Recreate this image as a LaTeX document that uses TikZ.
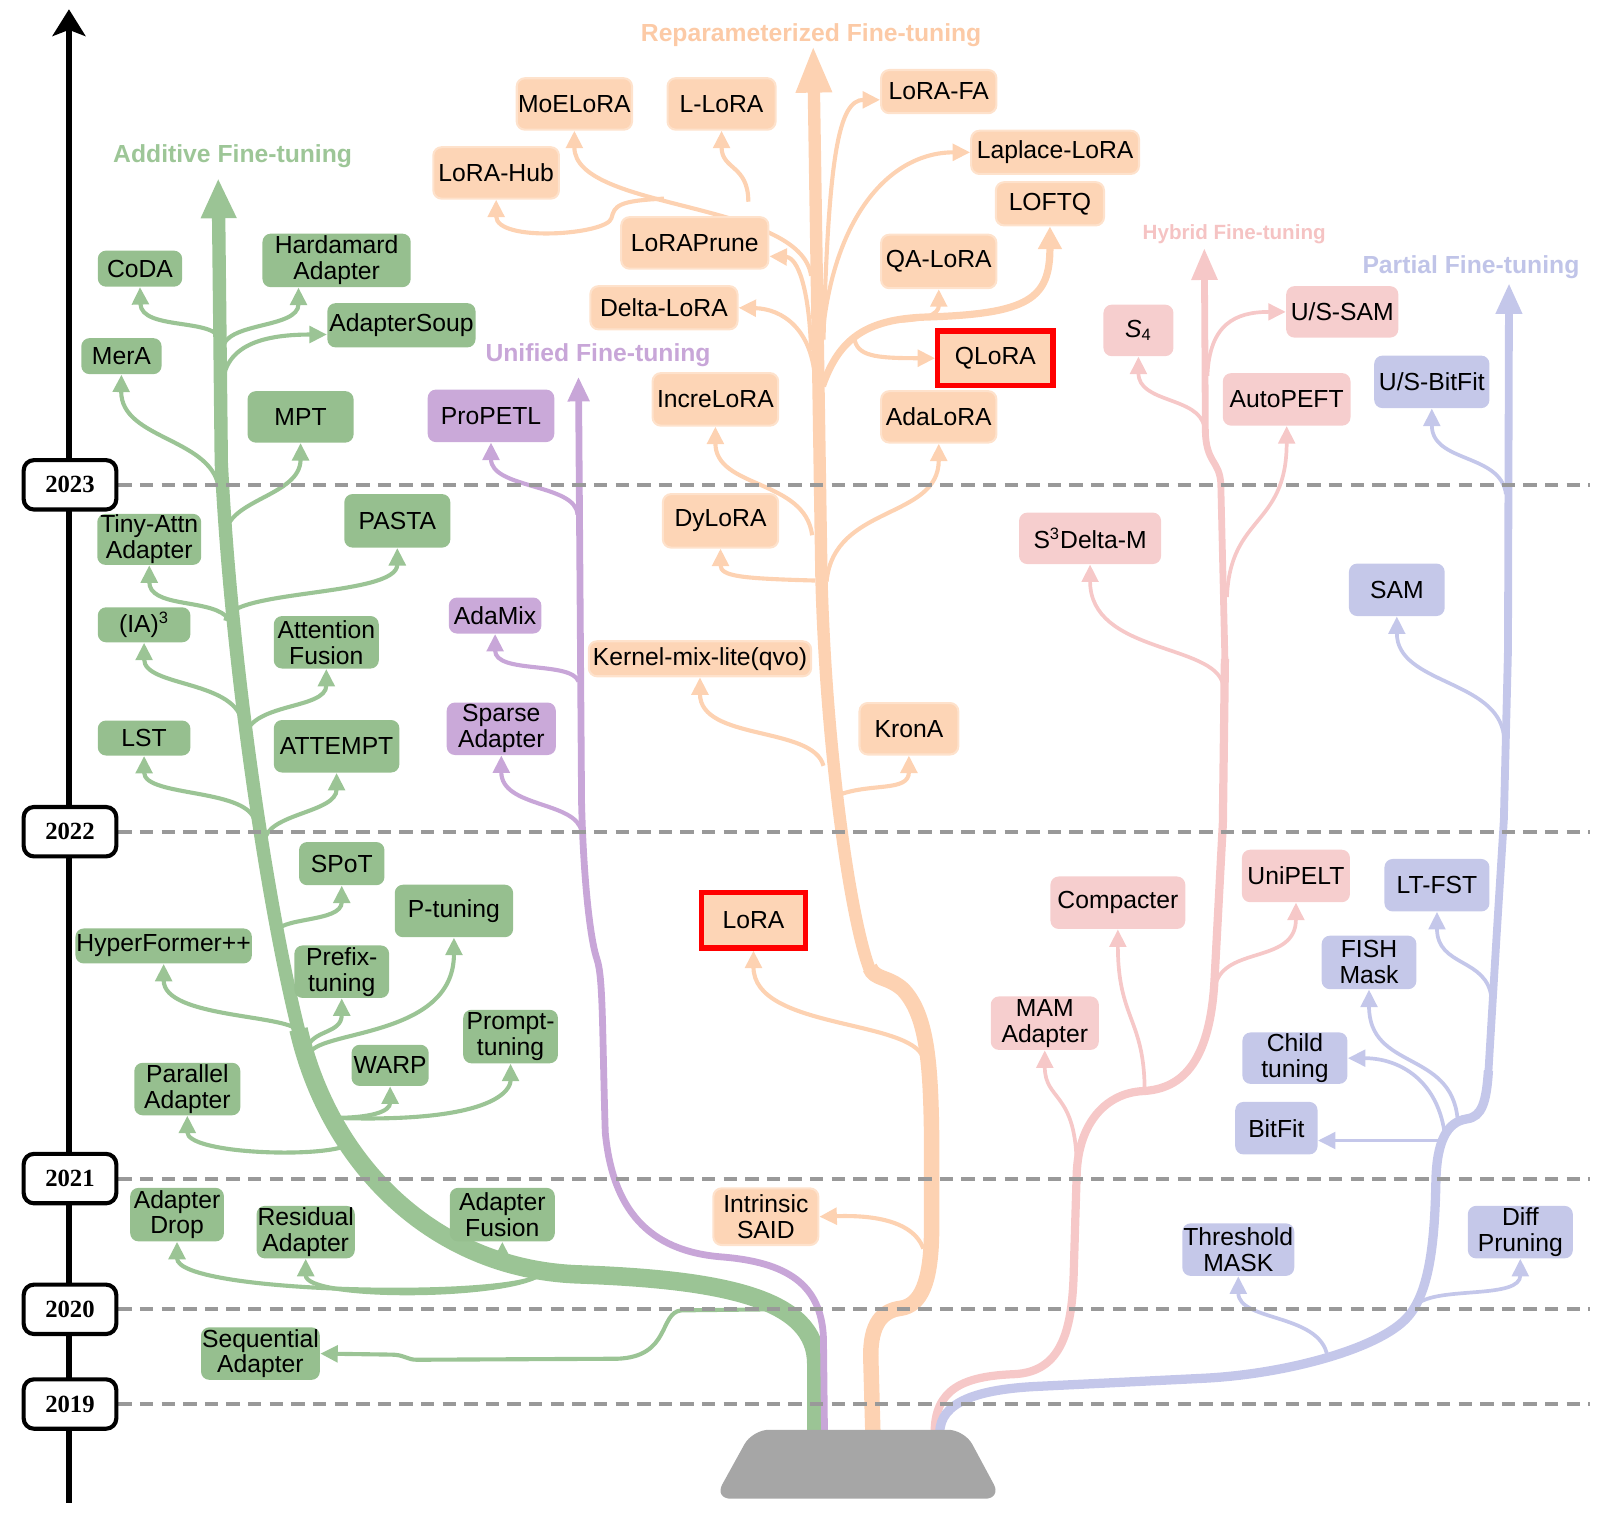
\documentclass[tikz,border=0pt]{standalone}
\usepackage{fontspec}
\setmainfont{Liberation Sans}
\newfontfamily\yearfont{Liberation Serif}
\usetikzlibrary{arrows.meta,calc}
\pgfdeclarelayer{bg}
\pgfdeclarelayer{mid}
\pgfsetlayers{bg,mid,main}
\definecolor{gfill}{RGB}{150,191,143}
\definecolor{ofill}{RGB}{253,213,182}
\definecolor{oborder}{RGB}{254,226,204}
\definecolor{pfill}{RGB}{202,169,217}
\definecolor{rfill}{RGB}{246,206,206}
\definecolor{bfill}{RGB}{197,200,233}
\definecolor{gline}{RGB}{155,196,149}
\definecolor{oline}{RGB}{253,210,178}
\definecolor{pline}{RGB}{200,166,216}
\definecolor{rline}{RGB}{246,200,200}
\definecolor{bline}{RGB}{196,199,234}
\definecolor{gcat}{RGB}{157,198,151}
\definecolor{ocat}{RGB}{252,202,166}
\definecolor{pcat}{RGB}{200,166,216}
\definecolor{rcat}{RGB}{245,195,195}
\definecolor{bcat}{RGB}{192,196,232}
\definecolor{basegray}{RGB}{166,166,166}
\definecolor{dashgray}{RGB}{153,153,153}
\newcommand{\ndfont}{\fontsize{12}{12.6}\selectfont}
\tikzset{
  nd/.style={rounded corners=4pt, inner sep=0.5pt, align=center, font=\ndfont, text=black},
  sz/.style 2 args={minimum width=#1*0.5pt, minimum height=#2*0.5pt},
  gnode/.style={nd, fill=gfill},
  onode/.style={nd, fill=ofill, draw=oborder, line width=1pt},
  redframe/.style={nd, rounded corners=0pt, fill=ofill, draw=red, line width=2.5pt},
  pnode/.style={nd, fill=pfill},
  rnode/.style={nd, fill=rfill},
  bnode/.style={nd, fill=bfill},
  smalltip/.style={-{Triangle[width=8pt,length=8.5pt]}},
  gbr/.style={draw=gline, line width=2pt, smalltip},
  obr/.style={draw=oline, line width=2pt, smalltip},
  pbr/.style={draw=pline, line width=2pt, smalltip},
  rbr/.style={draw=rline, line width=1.8pt, smalltip},
  bbr/.style={draw=bline, line width=1.8pt, smalltip},
  cat/.style={font=\bfseries\fontsize{12}{14}\selectfont, inner sep=0pt},
  yearbox/.style={draw=black, line width=2pt, fill=white, rounded corners=5pt,
    minimum width=45pt, minimum height=24pt, inner sep=0pt,
    font=\yearfont\bfseries\fontsize{12}{14}\selectfont},
  dashln/.style={draw=dashgray, line width=2pt, dash pattern=on 6.5pt off 4pt},
}
\begin{document}
\begin{tikzpicture}[x=0.5pt,y=-0.5pt]
\useasboundingbox (0,0) rectangle (1568,1470);

% ---------- timeline ----------
\coordinate (axbot) at (67,1460);
\coordinate (axtop) at (67,9);
\begin{pgfonlayer}{bg}
\draw[line width=2.5pt, -{Stealth[length=13pt,width=16pt,inset=3pt]}] (axbot) -- (axtop);
\end{pgfonlayer}
\node[yearbox] (y2023) at (68,471) {2023};
\node[yearbox] (y2022) at (68,808) {2022};
\node[yearbox] (y2021) at (68,1145) {2021};
\node[yearbox] (y2020) at (68,1272) {2020};
\node[yearbox] (y2019) at (68,1364) {2019};
\coordinate (rb) at (1545,0);
\begin{pgfonlayer}{mid}
\foreach \y in {2023,2022,2021,2020,2019}
  \draw[dashln] (y\y.east) -- (y\y.east -| rb);
\end{pgfonlayer}

% ---------- category labels ----------
\node[cat, text=gcat] (catadd) at (226,152) {Additive Fine-tuning};
\node[cat, text=ocat] (catrep) at (788,34) {Reparameterized Fine-tuning};
\node[cat, text=pcat] (catuni) at (581,345) {Unified Fine-tuning};
\node[cat, text=rcat, font=\bfseries\fontsize{10}{12}\selectfont] (cathyb) at (1199,228) {Hybrid Fine-tuning};
\node[cat, text=bcat] (catpar) at (1429,260) {Partial Fine-tuning};

% ---------- green nodes ----------
\node[gnode,sz={82}{35}] (coda) at (136,261) {CoDA};
\node[gnode,sz={144}{52}] (hard) at (327,253) {Hardamard\\Adapter};
\node[gnode,sz={144}{43}] (soup) at (390,316) {AdapterSoup};
\node[gnode,sz={78}{35}] (mera) at (118,346) {MerA};
\node[gnode,sz={103}{50}] (mpt) at (292,405) {MPT};
\node[gnode,sz={101}{48}] (tiny) at (145,524) {Tiny-Attn\\Adapter};
\node[gnode,sz={103}{52}] (pasta) at (386,506) {PASTA};
\node[gnode,sz={90}{34}] (ia3) at (140,607) {(IA)\textsuperscript{3}};
\node[gnode,sz={102}{51}] (attf) at (317,624) {Attention\\Fusion};
\node[gnode,sz={90}{34}] (lst) at (140,717) {LST};
\node[gnode,sz={122}{51}] (attempt) at (327,725) {ATTEMPT};
\node[gnode,sz={83}{42}] (spot) at (332,839) {SPoT};
\node[gnode,sz={115}{51}] (ptun) at (441,885) {P-tuning};
\node[gnode,sz={171}{34}] (hyper) at (159,919) {HyperFormer++};
\node[gnode,sz={92}{51}] (prefix) at (332,944) {Prefix-\\tuning};
\node[gnode,sz={92}{52}] (prompt) at (496,1007) {Prompt-\\tuning};
\node[gnode,sz={75}{40}] (warp) at (379,1035) {WARP};
\node[gnode,sz={103}{51}] (para) at (182,1058) {Parallel\\Adapter};
\node[gnode,sz={91}{52}] (adrop) at (172,1180) {Adapter\\Drop};
\node[gnode,sz={93}{51}] (resid) at (297,1197) {Residual\\Adapter};
\node[gnode,sz={102}{52}] (afus) at (488,1180) {Adapter\\Fusion};
\node[gnode,sz={115}{51}] (seq) at (253,1315) {Sequential\\Adapter};

% ---------- orange nodes ----------
\node[onode,sz={112}{50}] (moe) at (558,101) {MoELoRA};
\node[onode,sz={105}{50}] (llora) at (701,101) {L-LoRA};
\node[onode,sz={112}{42}] (lorafa) at (912,89) {LoRA-FA};
\node[onode,sz={163}{42}] (laplace) at (1025,148) {Laplace-LoRA};
\node[onode,sz={122}{50}] (hub) at (482,168) {LoRA-Hub};
\node[onode,sz={105}{42}] (loftq) at (1020,198) {LOFTQ};
\node[onode,sz={143}{50}] (prune) at (675,236) {LoRAPrune};
\node[onode,sz={112}{52}] (qalora) at (912,254) {QA-LoRA};
\node[onode,sz={143}{42}] (delta) at (645,299) {Delta-LoRA};
\node[redframe,sz={112}{53}] (qlora) at (967,348) {QLoRA};
\node[onode,sz={122}{51}] (incre) at (695,388) {IncreLoRA};
\node[onode,sz={112}{50}] (adalora) at (912,405) {AdaLoRA};
\node[onode,sz={112}{52}] (dylora) at (700,506) {DyLoRA};
\node[onode,sz={216}{34}] (kernel) at (680,640) {Kernel-mix-lite(qvo)};
\node[onode,sz={96}{50}] (krona) at (883,708) {KronA};
\node[redframe,sz={101}{54}] (lora) at (732,894) {LoRA};
\node[onode,sz={102}{55}] (intr) at (744,1182) {Intrinsic\\SAID};

% ---------- purple nodes ----------
\node[pnode,sz={123}{51}] (propetl) at (477,404) {ProPETL};
\node[pnode,sz={90}{35}] (adamix) at (481,598) {AdaMix};
\node[pnode,sz={106}{51}] (sparse) at (487,708) {Sparse\\Adapter};

% ---------- pink nodes ----------
\node[rnode,sz={68}{50}] (s4) at (1106,321) {\textit{S}\textsubscript{4}};
\node[rnode,sz={109}{50}] (ussam) at (1304,303) {U/S-SAM};
\node[rnode,sz={124}{51}] (autopeft) at (1250,388) {AutoPEFT};
\node[rnode,sz={138}{50}] (s3d) at (1059,523) {S\textsuperscript{3}Delta-M};
\node[rnode,sz={105}{51}] (unipelt) at (1259,851) {UniPELT};
\node[rnode,sz={131}{51}] (compacter) at (1086,877) {Compacter};
\node[rnode,sz={105}{52}] (mam) at (1015,994) {MAM\\Adapter};

% ---------- blue nodes ----------
\node[bnode,sz={112}{51}] (usbitfit) at (1391,371) {U/S-BitFit};
\node[bnode,sz={93}{51}] (sam) at (1357,573) {SAM};
\node[bnode,sz={102}{51}] (ltfst) at (1396,860) {LT-FST};
\node[bnode,sz={92}{52}] (fish) at (1330,935) {FISH\\Mask};
\node[bnode,sz={102}{50}] (child) at (1258,1028) {Child\\tuning};
\node[bnode,sz={80}{51}] (bitfit) at (1240,1096) {BitFit};
\node[bnode,sz={108}{51}] (thresh) at (1203,1214) {Threshold\\MASK};
\node[bnode,sz={102}{51}] (diff) at (1477,1197) {Diff\\Pruning};

% ---------- base ----------
\fill[basegray, rounded corners=8pt] (694,1456) -- (731,1389) -- (937,1389) -- (973,1456) -- cycle;

\begin{pgfonlayer}{bg}
% ---------- trunks ----------
% green (additive)
\draw[gline, line width=9pt] (793,1392) -- (793,1325) .. controls (793,1262) and (705,1243) .. (560,1238) .. controls (420,1232) and (320,1130) .. (290,1000);
\draw[gline, line width=6.5pt, -{Triangle[width=16pt,length=19.5pt]}] (290,1001) .. controls (260,880) and (225,650) .. (215,450) -- (212,173);
% purple (unified)
\draw[pline, line width=3.3pt, -{Triangle[width=10pt,length=12pt]}] (801,1392) -- (800,1300) .. controls (798,1248) and (765,1226) .. (700,1221) .. controls (630,1215) and (595,1175) .. (588,1100) .. controls (585,1000) and (586,950) .. (580,932) .. controls (574,915) and (567,860) .. (565,780) -- (562,366);
% orange (reparameterized)
\draw[oline, line width=7.5pt] (848,1392) -- (846,1320) .. controls (845,1285) and (858,1273) .. (875,1271) .. controls (895,1268) and (904,1245) .. (905,1200) -- (905,1100) .. controls (904,1030) and (900,985) .. (877,961) .. controls (862,948) and (850,952) .. (845,940);
\draw[oline, line width=6pt, -{Triangle[width=16pt,length=23pt]}] (845,942) .. controls (825,890) and (802,720) .. (798,560) -- (790,44);
% pink (hybrid)
\draw[rline, line width=4pt] (908,1392) .. controls (908,1350) and (935,1337) .. (985,1335) .. controls (1030,1333) and (1041,1295) .. (1043,1240) -- (1046,1140) .. controls (1048,1090) and (1075,1062) .. (1110,1060) .. controls (1150,1058) and (1176,1030) .. (1180,950) -- (1188,800) -- (1190,640);
\draw[rline, line width=3.3pt, -{Triangle[width=12pt,length=15.5pt]}] (1190,641) -- (1186,470) .. controls (1185,448) and (1172,450) .. (1171,420) -- (1170,241);
% blue (partial)
\draw[bline, line width=4.5pt] (913,1392) .. controls (913,1362) and (950,1350) .. (1005,1347) -- (1169,1339) .. controls (1250,1335) and (1340,1310) .. (1367,1280) .. controls (1390,1255) and (1394,1200) .. (1395,1146) .. controls (1396,1110) and (1405,1090) .. (1425,1087) .. controls (1440,1085) and (1444,1070) .. (1446,1040);
\draw[bline, line width=3.8pt, -{Triangle[width=12pt,length=15pt]}] (1446,1041) -- (1454,908) -- (1461,796) -- (1465,631) -- (1466,275);

% ---------- branch start coordinates ----------
\coordinate (sCoda) at (214,332);
\coordinate (sHard) at (216,340);
\coordinate (sSoup) at (216,378);
\coordinate (sMera) at (213,478);
\coordinate (sMpt) at (219,520);
\coordinate (sTiny) at (219,598);
\coordinate (sPasta) at (219,603);
\coordinate (sIa) at (236,705);
\coordinate (sAttf) at (238,718);
\coordinate (sLst) at (248,800);
\coordinate (sAttempt) at (257,818);
\coordinate (sSpot) at (267,908);
\coordinate (sHyper) at (291,1003);
\coordinate (sPrefix) at (298,1020);
\coordinate (sPtun) at (300,1025);
\coordinate (sWarp) at (325,1086);
\coordinate (sPara) at (334,1114);
\coordinate (sDrop) at (522,1240);
\coordinate (sFus) at (532,1238);
\coordinate (sSeq) at (748,1272);
% green branches
\draw[gbr] (sCoda) .. controls (213,308) and (137,322) .. (coda.south);
\draw[gbr] (sHard) .. controls (217,312) and (290,320) .. ($(hard.south)+(-37,0)$);
\draw[gbr] (sSoup) .. controls (216,338) and (250,325) .. ($(soup.west)+(0,9)$);
\draw[gbr] (sMera) .. controls (210,425) and (117,428) .. (mera.south);
\draw[gbr] (sMpt) .. controls (220,485) and (292,482) .. (mpt.south);
\draw[gbr] (sTiny) .. controls (200,582) and (145,590) .. (tiny.south);
\draw[gbr] (sPasta) .. controls (221,572) and (386,580) .. (pasta.south);
\draw[gbr] (sIa) .. controls (232,660) and (140,668) .. (ia3.south);
\draw[gbr] (sAttf) .. controls (240,682) and (317,690) .. (attf.south);
\draw[gbr] (sLst) .. controls (245,765) and (140,775) .. (lst.south);
\draw[gbr] (sAttempt) .. controls (258,790) and (327,790) .. (attempt.south);
\draw[gbr] (sSpot) .. controls (268,890) and (332,897) .. (spot.south);
\draw[gbr] (sHyper) .. controls (285,985) and (159,990) .. (hyper.south);
\draw[gbr] (sPrefix) .. controls (302,1000) and (332,1005) .. (prefix.south);
\draw[gbr] (sPtun) .. controls (305,1000) and (441,1010) .. (ptun.south);
\draw[gbr] (sWarp) .. controls (360,1086) and (379,1080) .. (warp.south);
\draw[gbr] (sWarp) .. controls (500,1092) and (496,1050) .. (prompt.south);
\draw[gbr] (sPara) .. controls (300,1125) and (182,1120) .. (para.south);
\draw[gbr] (sDrop) .. controls (480,1262) and (172,1256) .. (adrop.south);
\draw[gbr] (sDrop) .. controls (480,1262) and (297,1262) .. (resid.south);
\draw[gbr] (sFus) .. controls (495,1238) and (488,1232) .. (afus.south);
\draw[gbr] (sSeq) -- (662,1273) .. controls (640,1275) and (652,1318) .. (600,1320) -- (405,1321) .. controls (395,1321) and (393,1316) .. (380,1316) -- (seq.east);

% orange branch starts
\coordinate (sFa) at (800,330);
\coordinate (sLap) at (797,360);
\coordinate (sMoe) at (788,268);
\coordinate (sLl) at (727,196);
\coordinate (sHub) at (645,193);
\coordinate (sPrune) at (788,340);
\coordinate (sDelta) at (792,372);
\coordinate (sLoftq) at (799,375);
\coordinate (sQa) at (860,312);
\coordinate (sQl) at (830,328);
\coordinate (sIncre) at (789,520);
\coordinate (sAda) at (803,565);
\coordinate (sDy) at (792,564);
\coordinate (sKer) at (800,744);
\coordinate (sKro) at (813,773);
\coordinate (sLora) at (897,1028);
\coordinate (sIntr) at (897,1213);
% orange branches
\draw[obr] (sFa) .. controls (805,150) and (815,97) .. ($(lorafa.west)+(0,8)$);
\draw[obr] (sLap) .. controls (800,220) and (860,148) .. (laplace.west);
\draw[obr] (sMoe) .. controls (778,195) and (558,205) .. (moe.south);
\draw[obr] (sLl) .. controls (727,160) and (701,165) .. (llora.south);
\draw[obr] (sHub) .. controls (600,195) and (597,200) .. (594,212) .. controls (590,228) and (482,236) .. (hub.south);
\draw[obr] (sPrune) .. controls (786,280) and (775,250) .. ($(prune.east)+(0,13)$);
\draw[obr] (sDelta) .. controls (790,320) and (760,300) .. (delta.east);
\draw[oline, line width=3.5pt, -{Triangle[width=11pt,length=11pt]}] (sLoftq) .. controls (815,330) and (840,310) .. (900,308) .. controls (1000,305) and (1020,290) .. (loftq.south);
\draw[obr] (sQa) .. controls (900,312) and (912,305) .. (qalora.south);
\draw[obr] (sQl) .. controls (832,346) and (850,348) .. (qlora.west);
\draw[obr] (sIncre) .. controls (782,465) and (695,475) .. (incre.south);
\draw[obr] (sAda) .. controls (810,490) and (912,505) .. (adalora.south);
\draw[obr] (sDy) .. controls (720,562) and (700,560) .. (dylora.south);
\draw[obr] (sKer) .. controls (790,705) and (680,720) .. (kernel.south);
\draw[obr] (sKro) .. controls (845,760) and (883,770) .. (krona.south);
\draw[obr] (sLora) .. controls (885,990) and (732,1000) .. (lora.south);
\draw[obr] (sIntr) .. controls (885,1180) and (830,1181) .. (intr.east);

% purple branches
\coordinate (sPro) at (561,500);
\coordinate (sMix) at (562,662);
\coordinate (sSpa) at (565,808);
\draw[pbr] (sPro) .. controls (560,470) and (477,475) .. (propetl.south);
\draw[pbr] (sMix) .. controls (555,642) and (481,655) .. (adamix.south);
\draw[pbr] (sSpa) .. controls (560,778) and (487,785) .. (sparse.south);

% pink branches
\coordinate (sS4) at (1170,415);
\coordinate (sUss) at (1173,365);
\coordinate (sAuto) at (1192,580);
\coordinate (sS3) at (1188,665);
\coordinate (sUni) at (1182,953);
\coordinate (sComp) at (1112,1060);
\coordinate (sMam) at (1046,1135);
\draw[rbr] (sS4) .. controls (1165,385) and (1106,392) .. (s4.south);
\draw[rbr] (sUss) .. controls (1175,315) and (1200,303) .. (ussam.west);
\draw[rbr] (sAuto) .. controls (1195,500) and (1250,512) .. (autopeft.south);
\draw[rbr] (sS3) .. controls (1180,625) and (1059,635) .. (s3d.south);
\draw[rbr] (sUni) .. controls (1195,920) and (1259,935) .. (unipelt.south);
\draw[rbr] (sComp) .. controls (1112,990) and (1086,990) .. (compacter.south);
\draw[rbr] (sMam) .. controls (1046,1060) and (1015,1070) .. (mam.south);

% blue branches
\coordinate (sUsb) at (1463,480);
\coordinate (sSam) at (1461,715);
\coordinate (sLt) at (1449,970);
\coordinate (sFish) at (1416,1087);
\coordinate (sChild) at (1404,1105);
\coordinate (sBit) at (1404,1108);
\coordinate (sThr) at (1290,1322);
\coordinate (sDiff) at (1378,1266);
\draw[bbr] (sUsb) .. controls (1458,440) and (1391,450) .. (usbitfit.south);
\draw[bbr] (sSam) .. controls (1455,660) and (1357,665) .. (sam.south);
\draw[bbr] (sLt) .. controls (1445,930) and (1396,940) .. (ltfst.south);
\draw[bbr] (sFish) .. controls (1410,1020) and (1330,1040) .. (fish.south);
\draw[bbr] (sChild) .. controls (1398,1050) and (1360,1028) .. (child.east);
\draw[bbr] (sBit) -- ($(bitfit.east)+(0,12)$);
\draw[bbr] (sThr) .. controls (1288,1275) and (1203,1285) .. (thresh.south);
\draw[bbr] (sDiff) .. controls (1400,1250) and (1477,1262) .. (diff.south);
\end{pgfonlayer}
\end{tikzpicture}
\end{document}
